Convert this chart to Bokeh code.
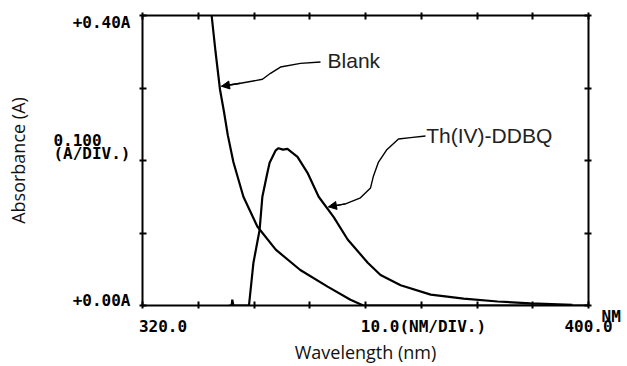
from bokeh.plotting import figure
from bokeh.models import Range1d, LinearAxis, FixedTicker, Label, Arrow, NormalHead
from bokeh.embed import file_html
from bokeh.resources import INLINE

# ---- data ----
blank_wl = [332.4, 333.1, 333.9, 334.6, 335.3, 336.3, 338.1, 340.6, 343.9, 348.3, 353.2, 357.3, 359.6, 400.0]
blank_abs = [0.40, 0.35, 0.298, 0.268, 0.235, 0.198, 0.150, 0.109, 0.077, 0.049, 0.026, 0.008, 0.0, 0.0]

ddbq_wl = [335.5, 336.0, 336.1, 336.3, 339.1, 339.9, 341.0, 341.5, 342.4, 342.8, 343.9, 344.4,
           345.2, 346.0, 347.8, 349.6, 351.6, 354.3, 356.8, 360.4, 362.7, 366.3, 371.7, 377.6,
           383.7, 389.6, 397.1]
ddbq_abs = [0.0, 0.0, 0.008, 0.0, 0.0, 0.059, 0.104, 0.150, 0.183, 0.197, 0.214, 0.217,
            0.215, 0.216, 0.205, 0.183, 0.150, 0.122, 0.091, 0.059, 0.042, 0.028, 0.015, 0.0096,
            0.0055, 0.003, 0.001]

x_ticks = [320, 330, 340, 350, 360, 370, 380, 390, 400]
y_ticks = [0.0, 0.1, 0.2, 0.3, 0.4]

# instrument-style scale labels: (position, text)
y_label_pos = [0.0073, 0.2096, 0.228, 0.3908]
y_label_txt = ["+0.00A", "(A/DIV.)", "0.100\u00a0\u00a0\u00a0", "+0.40A"]
x_label_pos = [323.68, 370.4, 400.0]
x_label_txt = ["320.0", "10.0(NM/DIV.)", "400.0"]
x_unit_txt = "\nNM"

# callout leader paths (data coords)
blank_path_x = [351.93, 348.34, 344.75, 342.96, 341.52, 337.58, 334.17]
blank_path_y = [0.3358, 0.3340, 0.3289, 0.3203, 0.3120, 0.3065, 0.3024]
ddbq_path_x = [370.76, 368.07, 365.92, 363.77, 362.33, 361.43, 360.90, 359.10, 356.41, 353.36]
ddbq_path_y = [0.2337, 0.2316, 0.2296, 0.2144, 0.1979, 0.1787, 0.1622, 0.1485, 0.1402, 0.1361]

W, H = 627, 366
p = figure(width=W, height=H, output_backend="svg", toolbar_location=None,
           x_range=Range1d(320, 400), y_range=Range1d(0, 0.4),
           min_border_left=142, min_border_right=39, min_border_top=15, min_border_bottom=60,
           x_axis_location=None, y_axis_location=None)
p.xgrid.visible = False
p.ygrid.visible = False
p.outline_line_color = "black"
p.outline_line_width = 2
p.background_fill_color = "white"
p.border_fill_color = "white"

mono = "DejaVu Sans Mono"
title_font = "Open Sans"

# tick-mark axes on all four sides
for loc, tk in (("below", x_ticks), ("above", x_ticks), ("left", y_ticks), ("right", y_ticks)):
    ax = LinearAxis(ticker=FixedTicker(ticks=tk))
    ax.axis_line_color = None
    ax.major_tick_in = 4
    ax.major_tick_out = 3
    ax.major_tick_line_width = 2
    ax.major_tick_line_color = "black"
    ax.minor_tick_line_color = None
    ax.major_label_overrides = {t: "" for t in tk}
    ax.major_label_text_font_size = "0px"
    ax.major_label_standoff = 0
    p.add_layout(ax, loc)

def label_axis(ticks, texts, bounds):
    ax = LinearAxis(ticker=FixedTicker(ticks=ticks), bounds=bounds)
    ax.axis_line_color = None
    ax.major_tick_line_color = None
    ax.minor_tick_line_color = None
    ax.major_tick_in = 0
    ax.major_tick_out = 0
    ax.major_label_overrides = dict(zip(ticks, texts))
    ax.major_label_text_font = mono
    ax.major_label_text_font_style = "bold"
    ax.major_label_text_font_size = "16px"
    ax.major_label_text_color = "black"
    ax.axis_label_text_font = title_font
    ax.axis_label_text_font_size = "18px"
    ax.axis_label_text_font_style = "normal"
    ax.axis_label_text_color = "#111111"
    return ax

ly = label_axis(y_label_pos, y_label_txt, (0.0, 0.3912))
ly.major_label_standoff = 9
ly.major_label_text_baseline = "middle"
ly.axis_label = "Absorbance (A)"
ly.axis_label_standoff = 20
p.add_layout(ly, "left")

lx = label_axis(x_label_pos, x_label_txt, (321.0, 400.0))
lx.major_label_standoff = 8
lx.major_label_text_baseline = "top"
lx.axis_label = "Wavelength (nm)"
lx.axis_label_standoff = 1
p.add_layout(lx, "below")

ru = label_axis([0.0], [x_unit_txt], "auto")
ru.major_label_standoff = 10
ru.major_label_text_align = "left"
p.add_layout(ru, "right")

p.line(blank_wl, blank_abs, line_color="black", line_width=2.2)
p.line(ddbq_wl, ddbq_abs, line_color="black", line_width=2.2)

# callouts
p.line(blank_path_x, blank_path_y, line_color="black", line_width=1.4)
p.add_layout(Arrow(end=NormalHead(size=8, fill_color="black", line_color="black"),
                   x_start=blank_path_x[-2], y_start=blank_path_y[-2],
                   x_end=blank_path_x[-1], y_end=blank_path_y[-1],
                   line_color="black", line_width=1.4))
p.line(ddbq_path_x, ddbq_path_y, line_color="black", line_width=1.4)
p.add_layout(Arrow(end=NormalHead(size=8, fill_color="black", line_color="black"),
                   x_start=ddbq_path_x[-2], y_start=ddbq_path_y[-2],
                   x_end=ddbq_path_x[-1], y_end=ddbq_path_y[-1],
                   line_color="black", line_width=1.4))

sans = "Liberation Sans"
p.add_layout(Label(x=353.2, y=0.338, text="Blank", text_font=sans, text_font_size="21px",
                   text_align="left", text_baseline="middle", text_color="#222222"))
p.add_layout(Label(x=370.9, y=0.234, text="Th(IV)-DDBQ", text_font=sans, text_font_size="21px",
                   text_align="left", text_baseline="middle", text_color="#222222"))

open("out.html", "w").write(file_html(p, INLINE))
